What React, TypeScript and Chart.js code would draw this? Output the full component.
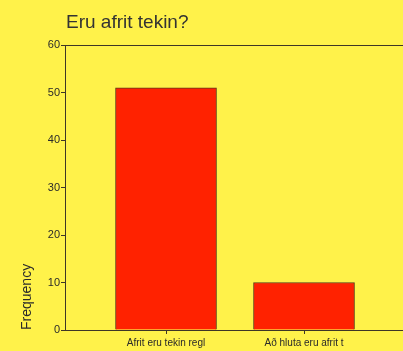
import React, { useEffect, useRef } from "react";
import { Chart, registerables } from "chart.js";

Chart.register(...registerables);

const TITLE = "Eru afrit tekin?";
const Y_TITLE = "Frequency";
const CATEGORIES = ["Afrit eru tekin regl", "Að hluta eru afrit t"];
const POSITIONS = [1, 2];
const FREQUENCIES = [51, 10];
const Y_TICKS = [0, 10, 20, 30, 40, 50, 60];

const BG = "#FFF24A";
const BAR = "#FF2200";
const EDGE = "#5a3a1c";
const AXIS = "#3e3626";
const TEXT = "#2a2a2a";
const FONT = "Arial, 'Liberation Sans', sans-serif";

const frame = {
  id: "frame",
  beforeDraw(chart: any) {
    const { ctx, width, height } = chart;
    ctx.save();
    ctx.fillStyle = BG;
    ctx.fillRect(0, 0, width, height);
    ctx.restore();
  },
  afterDraw(chart: any) {
    const { ctx, chartArea } = chart;
    ctx.save();
    ctx.strokeStyle = AXIS;
    ctx.lineWidth = 1;
    ctx.beginPath();
    ctx.moveTo(chartArea.left, chartArea.top + 0.5);
    ctx.lineTo(chartArea.right, chartArea.top + 0.5);
    ctx.stroke();
    ctx.fillStyle = "#333";
    ctx.font = "19px " + FONT;
    ctx.textBaseline = "alphabetic";
    ctx.textAlign = "left";
    ctx.fillText(TITLE, chartArea.left + 1, 28);
    ctx.restore();
  },
};

export default function App() {
  const ref = useRef<HTMLCanvasElement>(null);
  useEffect(() => {
    if (!ref.current) return;
    const chart = new Chart(ref.current, {
      type: "bar",
      data: {
        datasets: [
          {
            data: POSITIONS.map((x, i) => ({ x, y: FREQUENCIES[i] })),
            backgroundColor: BAR,
            borderColor: EDGE,
            borderWidth: 1,
            barThickness: 101,
          },
        ],
      },
      options: {
        animation: false,
        responsive: false,
        layout: { padding: { top: 45, right: 0, left: 0, bottom: 0 } },
        plugins: {
          legend: { display: false },
          tooltip: { enabled: false },
          title: { display: false },
        },
        scales: {
          x: {
            type: "linear",
            offset: false,
            min: 0.268,
            max: 2.913,
            afterBuildTicks: (s: any) => {
              s.ticks = POSITIONS.map((v) => ({ value: v }));
            },
            afterFit: (s: any) => {
              s.height = 21;
            },
            ticks: {
              autoSkip: false,
              maxRotation: 0,
              padding: 3,
              color: TEXT,
              font: { family: FONT, size: 10 },
              callback: (v: any) => CATEGORIES[POSITIONS.indexOf(Number(v))] ?? "",
            },
            grid: { offset: false, drawOnChartArea: false, drawTicks: true, tickLength: 4, color: AXIS },
            border: { display: true, color: AXIS, width: 1 },
          },
          y: {
            min: 0,
            max: 60,
            afterBuildTicks: (s: any) => {
              s.ticks = Y_TICKS.map((v) => ({ value: v }));
            },
            afterFit: (s: any) => {
              s.width = 65;
            },
            ticks: {
              padding: 1,
              color: TEXT,
              font: { family: FONT, size: 11 },
            },
            grid: { drawOnChartArea: false, drawTicks: true, tickLength: 4, color: AXIS },
            border: { display: true, color: AXIS, width: 1 },
            title: {
              display: true,
              text: Y_TITLE,
              align: "start",
              color: TEXT,
              padding: { top: 19, bottom: 0 },
              font: { family: FONT, size: 14 },
            },
          },
        },
      },
      plugins: [frame],
    } as any);
    return () => chart.destroy();
  }, []);
  return (
    <div
      style={{
        position: "fixed",
        left: 0,
        top: 0,
        width: 403,
        height: 351,
        overflow: "hidden",
        background: BG,
      }}
    >
      <canvas ref={ref} width={430} height={351} style={{ display: "block" }} />
    </div>
  );
}
